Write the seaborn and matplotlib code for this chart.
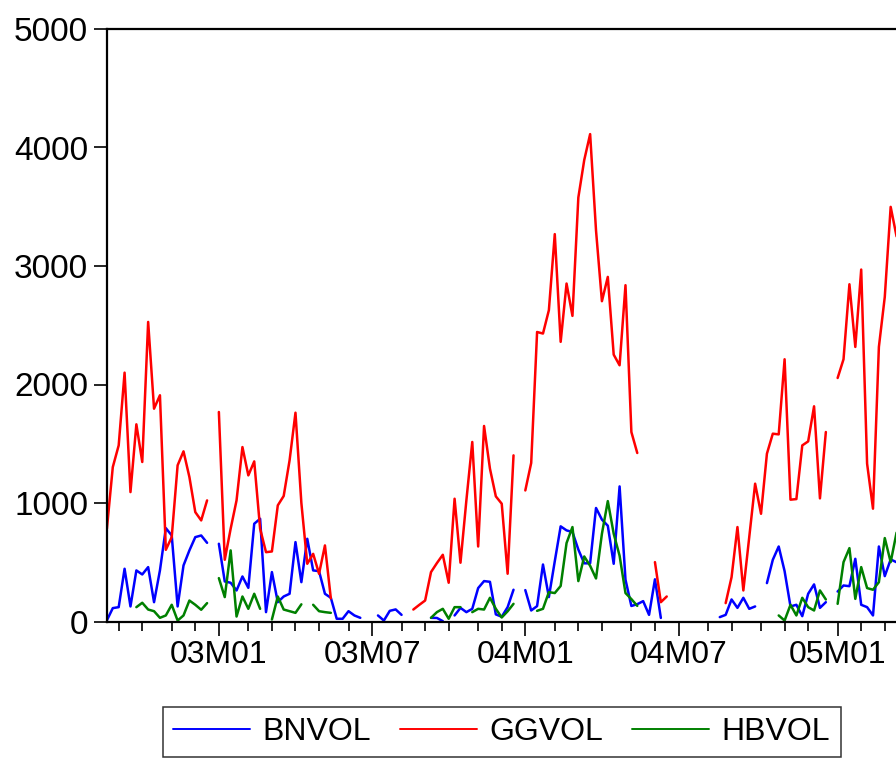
import numpy as np
import pandas as pd
import matplotlib
matplotlib.use("Agg")
import matplotlib.pyplot as plt
import matplotlib.dates as mdates
import seaborn as sns

nan = np.nan

# ---------------- data (weekly observations, Thursdays) ----------------
start_date = "2002-08-22"

bnvol = [10, 113, 121, 445, 127, 431, 397, 459, 163, 431,
         788, 726, 127, 473, 600, 712, 726, 664, nan, 656,
         338, 327, 262, 380, 284, 825, 867, 79, 417, 163,
         211, 234, 670, 332, 698, 431, 425, 234, 200, 23,
         23, 87, 51, 31, nan, nan, 51, 8, 90, 102,
         56, nan, nan, nan, nan, 31, 30, 3, nan, 51,
         115, 79, 107, 282, 341, 335, 60, 40, 121, 268,
         nan, 265, 93, 130, 481, 206, 508, 803, 769, 755,
         607, 491, 491, 958, 860, 808, 487, 1140, 353, 131,
         146, 172, 56, 356, 30, nan, nan, nan, nan, nan,
         nan, nan, nan, nan, 37, 56, 186, 115, 200, 107,
         127, nan, 324, 521, 633, 425, 127, 141, 45, 234,
         313, 115, 163, nan, 253, 304, 298, 529, 141, 121,
         51, 633, 383, 524, 500]

ggvol = [783, 1303, 1486, 2100, 1092, 1664, 1346, 2528, 1796, 1909,
         605, 712, 1318, 1436, 1219, 923, 853, 1022, nan, 1768,
         521, 783, 1022, 1472, 1233, 1351, 783, 585, 591, 980,
         1059, 1360, 1762, 1000, 487, 571, 403, 642, 195, nan,
         nan, nan, nan, nan, nan, nan, nan, nan, nan, nan,
         nan, nan, 101, 140, 177, 417, 493, 563, 327, 1036,
         496, 1022, 1515, 633, 1650, 1290, 1056, 994, 403, 1402,
         nan, 1106, 1338, 2443, 2430, 2627, 3269, 2360, 2852, 2579,
         3578, 3894, 4113, 3300, 2703, 2908, 2252, 2162, 2838, 1599,
         1422, nan, nan, 501, 163, 211, nan, nan, nan, nan,
         nan, nan, nan, nan, nan, 155, 374, 797, 262, 712,
         1163, 909, 1416, 1585, 1579, 2213, 1028, 1033, 1486, 1520,
         1816, 1039, 1599, nan, 2055, 2213, 2846, 2317, 2970, 1332,
         952, 2317, 2739, 3499, 3250]

hbvol = [nan, nan, nan, nan, nan, 121, 158, 101, 87, 31,
         51, 141, 8, 51, 177, 141, 99, 155, nan, 366,
         206, 600, 42, 211, 107, 234, 107, nan, 17, 211,
         101, 87, 73, 145, nan, 141, 87, 79, 73, nan,
         nan, nan, nan, nan, nan, nan, nan, nan, nan, nan,
         nan, nan, nan, nan, nan, 31, 79, 107, 23, 121,
         121, nan, 79, 107, 101, 200, 107, 34, 86, 149,
         nan, nan, nan, 90, 107, 248, 240, 300, 662, 797,
         341, 549, 470, 363, 740, 1016, 741, 555, 240, 189,
         132, nan, nan, nan, nan, nan, nan, nan, nan, nan,
         nan, nan, nan, nan, nan, nan, nan, nan, nan, nan,
         nan, nan, nan, nan, 51, 8, 141, 51, 200, 121,
         93, 262, 186, nan, 149, 501, 619, 191, 459, 282,
         268, 332, 704, 501, 750]

series_names = ["BNVOL", "GGVOL", "HBVOL"]
series_colors = ["#0000FF", "#FF0000", "#008000"]
y_ticks = [0, 1000, 2000, 3000, 4000, 5000]
major_tick_labels = ["03M01", "03M07", "04M01", "04M07", "05M01"]

# ---------------- build long table (segments break at gaps) -------------
dates = pd.date_range(start_date, periods=len(bnvol), freq="7D")
frames = []
for name, vals in zip(series_names, [bnvol, ggvol, hbvol]):
    v = np.array(vals, dtype=float)
    seg = np.cumsum(np.isnan(v))
    d = pd.DataFrame({"date": dates, "value": v, "series": name,
                      "segment": [f"{name}_{s}" for s in seg]})
    frames.append(d.dropna(subset=["value"]))
df = pd.concat(frames, ignore_index=True)

# ---------------- figure ----------------
sns.set_style("white")
plt.rcParams["font.family"] = ["Liberation Sans", "DejaVu Sans"]
plt.rcParams["text.color"] = "black"

W, H = 896, 759
fig = plt.figure(figsize=(W / 100, H / 100), dpi=100)
px_week = 5.893
x0_px, y0_px, ytop_px = 106.9, 621.5, 29.0
n_weeks_view = 140
ax = fig.add_axes([x0_px / W, (H - y0_px) / H,
                   n_weeks_view * px_week / W, (y0_px - ytop_px) / H])

sns.lineplot(data=df, x="date", y="value", hue="series", units="segment",
             estimator=None, hue_order=series_names,
             palette=dict(zip(series_names, series_colors)),
             linewidth=1.8, ax=ax, legend=True)

ax.set_xlim(mdates.date2num(dates[0]),
            mdates.date2num(dates[0] + pd.Timedelta(weeks=n_weeks_view)))
ax.set_ylim(0, 5000)
ax.set_xlabel("")
ax.set_ylabel("")

# ticks: first observation of each month
first_of_month = pd.Series(dates).groupby([dates.year, dates.month]).first()
first_of_month = first_of_month[first_of_month != dates[0]]
major = [d for d in first_of_month if d.month in (1, 7)]
minor = [d for d in first_of_month if d.month not in (1, 7)]
ax.set_xticks(mdates.date2num(major))
ax.set_xticklabels(major_tick_labels[:len(major)])
ax.set_xticks(mdates.date2num(minor), minor=True)
ax.set_yticks(y_ticks)
ax.set_yticklabels([str(t) for t in y_ticks])

for s in ["left", "bottom", "top", "right"]:
    ax.spines[s].set_color("black")
    ax.spines[s].set_linewidth(1.6)
ax.tick_params(axis="x", which="major", direction="out", length=10, width=1.2,
               pad=3, labelsize=23, colors="black", bottom=True)
ax.tick_params(axis="x", which="minor", direction="out", length=6.5, width=1.2,
               bottom=True, colors="black")
ax.tick_params(axis="y", which="major", direction="out", length=9.4, width=1.2,
               pad=4, labelsize=24, colors="black", left=True)

sns.move_legend(ax, "upper center",
                bbox_to_anchor=((161.7 + 842) / 2 / W, 1 - 707 / H),
                bbox_transform=fig.transFigure, ncol=3, title=None,
                frameon=True, fancybox=False, fontsize=23,
                handlelength=2.4, handletextpad=0.4, columnspacing=0.9,
                borderpad=0.32, borderaxespad=0.0)
leg = ax.get_legend()
leg.get_frame().set_edgecolor("black")
leg.get_frame().set_linewidth(1.1)
for h in leg.get_lines():
    h.set_linewidth(1.4)
for t in leg.get_texts():
    t.set_color("black")

fig.savefig("out.png", dpi=100)
